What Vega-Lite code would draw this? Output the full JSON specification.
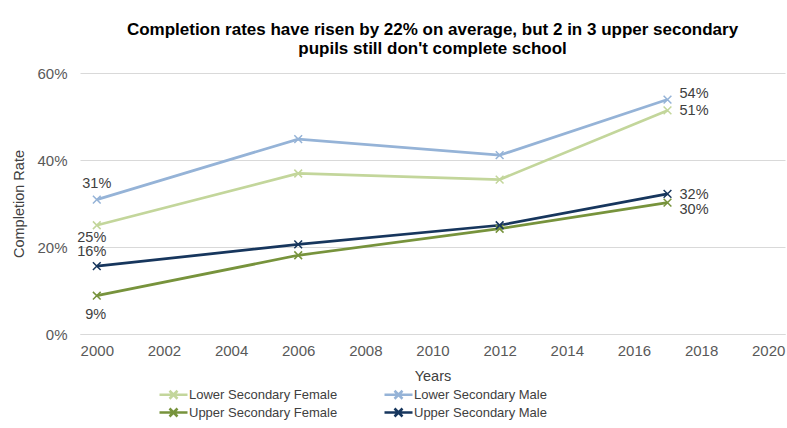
{
  "$schema": "https://vega.github.io/schema/vega-lite/v6.json",
  "width": 705,
  "height": 261,
  "autosize": {"type": "none"},
  "padding": {"left": 80, "top": 73, "right": 2, "bottom": 94},
  "background": "white",
  "config": {
    "font": "Liberation Sans",
    "view": {"stroke": null}
  },
  "title": {
    "text": ["Completion rates have risen by 22%  on average, but 2 in 3 upper secondary", "pupils still don't complete school"],
    "fontSize": 17,
    "fontWeight": "bold",
    "color": "#000000",
    "anchor": "middle",
    "lineHeight": 19,
    "offset": 8,
    "font": "Liberation Sans"
  },
  "data": {
    "values": [
      {"year": 2000, "series": "Lower Secondary Female", "rate": 0.25},
      {"year": 2006, "series": "Lower Secondary Female", "rate": 0.369},
      {"year": 2012, "series": "Lower Secondary Female", "rate": 0.355},
      {"year": 2017, "series": "Lower Secondary Female", "rate": 0.514},
      {"year": 2000, "series": "Lower Secondary Male", "rate": 0.309},
      {"year": 2006, "series": "Lower Secondary Male", "rate": 0.448},
      {"year": 2012, "series": "Lower Secondary Male", "rate": 0.411},
      {"year": 2017, "series": "Lower Secondary Male", "rate": 0.539},
      {"year": 2000, "series": "Upper Secondary Female", "rate": 0.088},
      {"year": 2006, "series": "Upper Secondary Female", "rate": 0.181},
      {"year": 2012, "series": "Upper Secondary Female", "rate": 0.242},
      {"year": 2017, "series": "Upper Secondary Female", "rate": 0.302},
      {"year": 2000, "series": "Upper Secondary Male", "rate": 0.156},
      {"year": 2006, "series": "Upper Secondary Male", "rate": 0.206},
      {"year": 2012, "series": "Upper Secondary Male", "rate": 0.25},
      {"year": 2017, "series": "Upper Secondary Male", "rate": 0.322}
    ]
  },
  "encoding": {
    "x": {
      "field": "year",
      "type": "quantitative",
      "scale": {"domain": [1999.5, 2020.5], "nice": false, "zero": false},
      "axis": {
        "title": "Years",
        "values": [2000, 2002, 2004, 2006, 2008, 2010, 2012, 2014, 2016, 2018, 2020],
        "format": "d",
        "grid": false,
        "ticks": false,
        "domain": true,
        "domainColor": "#d9d9d9",
        "domainWidth": 1,
        "labelFontSize": 15,
        "labelColor": "#595959",
        "labelPadding": 9,
        "titleFontSize": 14.5,
        "titleFontWeight": "normal",
        "titleColor": "#404040",
        "titlePadding": 11
      }
    },
    "y": {
      "field": "rate",
      "type": "quantitative",
      "scale": {"domain": [0, 0.6], "nice": false},
      "axis": {
        "title": "Completion Rate",
        "values": [0, 0.2, 0.4, 0.6],
        "format": ".0%",
        "grid": true,
        "gridColor": "#d9d9d9",
        "gridWidth": 1,
        "domain": false,
        "ticks": false,
        "labelFontSize": 15,
        "labelColor": "#595959",
        "labelPadding": 13,
        "titleFontSize": 14.5,
        "titleFontWeight": "normal",
        "titleColor": "#404040",
        "titlePadding": 10
      }
    },
    "color": {
      "field": "series",
      "type": "nominal",
      "scale": {
        "domain": ["Lower Secondary Female", "Lower Secondary Male", "Upper Secondary Female", "Upper Secondary Male"],
        "range": ["#c3d69b", "#95b3d7", "#77933c", "#17365d"]
      },
      "legend": null
    }
  },
  "layer": [
    {
      "mark": {"type": "line", "strokeWidth": 2.75},
      "encoding": {
        "color": {
          "field": "series",
          "type": "nominal",
          "legend": {
            "title": null,
            "orient": "none",
            "legendX": 87,
            "legendY": 315,
            "direction": "horizontal",
            "columns": 2,
            "columnPadding": 41,
            "rowPadding": -1,
            "labelFontSize": 13,
            "labelColor": "#404040",
            "labelOffset": 9,
            "labelLimit": 300,
            "symbolType": "M-2.8,0H2.8M-0.8,-0.8L0.8,0.8M-0.8,0.8L0.8,-0.8",
            "symbolSize": 100,
            "symbolStrokeWidth": 2.5,
            "symbolFillColor": "transparent"
          }
        }
      }
    },
    {
      "mark": {"type": "point", "shape": "M-1,-1L1,1M-1,1L1,-1", "size": 60, "filled": false, "strokeWidth": 1.5, "opacity": 1}
    },
    {
      "transform": [{"filter": "datum.year == 2000 && datum.series == 'Lower Secondary Male'"}],
      "mark": {"type": "text", "dy": -16, "fontSize": 14.5},
      "encoding": {"text": {"field": "rate", "format": ".0%"}, "color": {"value": "#404040"}}
    },
    {
      "transform": [{"filter": "datum.year == 2000 && datum.series == 'Upper Secondary Male'"}],
      "mark": {"type": "text", "dy": -14, "dx": -5, "fontSize": 14.5},
      "encoding": {"text": {"field": "rate", "format": ".0%"}, "color": {"value": "#404040"}}
    },
    {
      "transform": [{"filter": "datum.year == 2000 && datum.series == 'Lower Secondary Female'"}],
      "mark": {"type": "text", "dy": 13, "dx": -5, "fontSize": 14.5},
      "encoding": {"text": {"field": "rate", "format": ".0%"}, "color": {"value": "#404040"}}
    },
    {
      "transform": [{"filter": "datum.year == 2000 && datum.series == 'Upper Secondary Female'"}],
      "mark": {"type": "text", "dy": 19, "dx": -1, "fontSize": 14.5},
      "encoding": {"text": {"field": "rate", "format": ".0%"}, "color": {"value": "#404040"}}
    },
    {
      "transform": [{"filter": "datum.year == 2017 && datum.series == 'Lower Secondary Male'"}],
      "mark": {"type": "text", "dy": -6, "dx": 12, "align": "left", "fontSize": 14.5},
      "encoding": {"text": {"field": "rate", "format": ".0%"}, "color": {"value": "#404040"}}
    },
    {
      "transform": [{"filter": "datum.year == 2017 && (datum.series == 'Lower Secondary Female' || datum.series == 'Upper Secondary Male')"}],
      "mark": {"type": "text", "dy": 1, "dx": 12, "align": "left", "fontSize": 14.5},
      "encoding": {"text": {"field": "rate", "format": ".0%"}, "color": {"value": "#404040"}}
    },
    {
      "transform": [{"filter": "datum.year == 2017 && datum.series == 'Upper Secondary Female'"}],
      "mark": {"type": "text", "dy": 7, "dx": 12, "align": "left", "fontSize": 14.5},
      "encoding": {"text": {"field": "rate", "format": ".0%"}, "color": {"value": "#404040"}}
    }
  ]
}
